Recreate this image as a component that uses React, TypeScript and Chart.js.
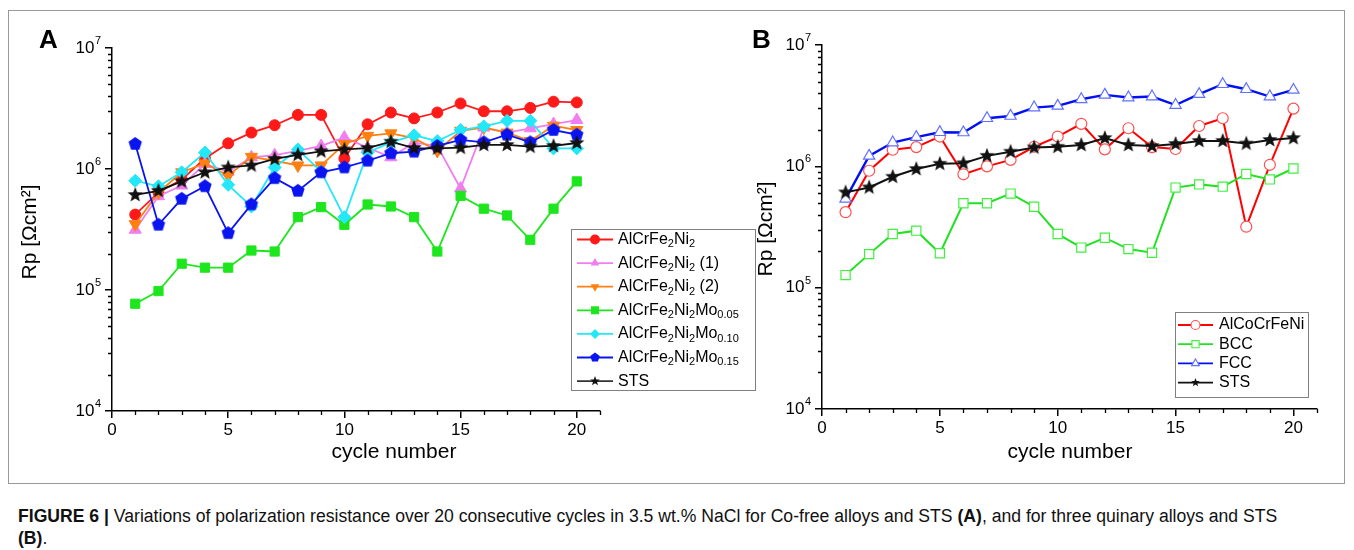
import React, { useEffect, useRef } from "react";
import { Chart, registerables } from "chart.js";
Chart.register(...registerables);

const FONT = "'Liberation Sans', Arial, Helvetica, sans-serif";

// ---------------- data ----------------
const cycles = [1, 2, 3, 4, 5, 6, 7, 8, 9, 10, 11, 12, 13, 14, 15, 16, 17, 18, 19, 20];
const xTickValues = [0, 5, 10, 15, 20];
const yTickValues = [1e4, 1e5, 1e6, 1e7];
const yTickBase = "10";
const yTickExponents = ["4", "5", "6", "7"];

// Panel A
const rpAlCrFe2Ni2 = [4.2e5, 6.4e5, 8.2e5, 1.22e6, 1.63e6, 2.0e6, 2.3e6, 2.8e6, 2.8e6, 1.22e6, 2.34e6, 2.93e6, 2.62e6, 2.93e6, 3.48e6, 3.0e6, 3.0e6, 3.2e6, 3.6e6, 3.55e6];
const rpAlCrFe2Ni2_1 = [3.15e5, 5.96e5, 7.3e5, 1.1e6, 9.5e5, 1.25e6, 1.3e6, 1.41e6, 1.55e6, 1.82e6, 1.5e6, 1.25e6, 1.65e6, 1.55e6, 6.9e5, 2.2e6, 2.0e6, 2.17e6, 2.35e6, 2.54e6];
const rpAlCrFe2Ni2_2 = [3.5e5, 6.4e5, 9.4e5, 1.11e6, 8.8e5, 1.26e6, 1.17e6, 1.07e6, 1.07e6, 1.61e6, 1.88e6, 1.97e6, 1.8e6, 1.41e6, 2.07e6, 2.2e6, 2.0e6, 1.7e6, 2.28e6, 2.1e6];
const rpMo005 = [7.7e4, 9.8e4, 1.65e5, 1.53e5, 1.53e5, 2.12e5, 2.08e5, 4.0e5, 4.84e5, 3.46e5, 5.09e5, 4.9e5, 4.0e5, 2.08e5, 6.0e5, 4.7e5, 4.13e5, 2.6e5, 4.7e5, 7.9e5];
const rpMo010 = [8.0e5, 7.2e5, 9.4e5, 1.37e6, 7.4e5, 4.9e5, 1.03e6, 1.45e6, 9.5e5, 4.0e5, 1.37e6, 1.66e6, 1.9e6, 1.7e6, 2.1e6, 2.25e6, 2.5e6, 2.5e6, 1.48e6, 1.48e6];
const rpMo015 = [1.61e6, 3.46e5, 5.67e5, 7.2e5, 2.95e5, 5.1e5, 8.4e5, 6.6e5, 9.4e5, 1.03e6, 1.17e6, 1.35e6, 1.39e6, 1.55e6, 1.74e6, 1.66e6, 1.92e6, 1.66e6, 2.1e6, 1.92e6];
const rpStsA = [6.1e5, 6.6e5, 7.9e5, 9.4e5, 1.03e6, 1.07e6, 1.21e6, 1.31e6, 1.4e6, 1.45e6, 1.49e6, 1.68e6, 1.49e6, 1.48e6, 1.5e6, 1.58e6, 1.58e6, 1.53e6, 1.55e6, 1.64e6];
const labelsA = [
  "AlCrFe_{2}Ni_{2}",
  "AlCrFe_{2}Ni_{2} (1)",
  "AlCrFe_{2}Ni_{2} (2)",
  "AlCrFe_{2}Ni_{2}Mo_{0.05}",
  "AlCrFe_{2}Ni_{2}Mo_{0.10}",
  "AlCrFe_{2}Ni_{2}Mo_{0.15}",
  "STS",
];

// Panel B
const rpAlCoCrFeNi = [4.19e5, 9.2e5, 1.37e6, 1.44e6, 1.76e6, 8.6e5, 1.0e6, 1.13e6, 1.45e6, 1.76e6, 2.24e6, 1.38e6, 2.06e6, 1.44e6, 1.39e6, 2.15e6, 2.49e6, 3.18e5, 1.03e6, 2.99e6];
const rpBCC = [1.27e5, 1.89e5, 2.77e5, 2.95e5, 1.92e5, 4.96e5, 4.96e5, 5.96e5, 4.65e5, 2.77e5, 2.14e5, 2.58e5, 2.08e5, 1.94e5, 6.68e5, 7.1e5, 6.8e5, 8.65e5, 7.8e5, 9.6e5];
const rpFCC = [5.4e5, 1.22e6, 1.57e6, 1.74e6, 1.91e6, 1.9e6, 2.49e6, 2.6e6, 3.05e6, 3.15e6, 3.57e6, 3.88e6, 3.69e6, 3.76e6, 3.2e6, 3.93e6, 4.75e6, 4.32e6, 3.76e6, 4.26e6];
const rpStsB = [6.1e5, 6.7e5, 8.2e5, 9.5e5, 1.05e6, 1.06e6, 1.22e6, 1.32e6, 1.43e6, 1.45e6, 1.5e6, 1.71e6, 1.5e6, 1.47e6, 1.53e6, 1.62e6, 1.62e6, 1.54e6, 1.65e6, 1.71e6];
const labelsB = ["AlCoCrFeNi", "BCC", "FCC", "STS"];

const xTitle = "cycle number";
const yTitle = "Rp [Ωcm²]";
const captionBold = "FIGURE 6 | ";
const captionText = "Variations of polarization resistance over 20 consecutive cycles in 3.5 wt.% NaCl for Co-free alloys and STS ";

// ---------------- colours ----------------
const C_RED = "#ff1a1a";
const C_PINK = "#f07ef0";
const C_ORANGE = "#ff8010";
const C_GREEN = "#1ee61e";
const C_CYAN = "#22e8fa";
const C_BLUE = "#0a14f0";
const C_BLACK = "#111111";

// ---------------- helpers ----------------
type Seg = { t: string; sub: boolean };
function parseRich(s: string): Seg[] {
  const out: Seg[] = [];
  const re = /_\{([^}]*)\}/g;
  let last = 0;
  let m: RegExpExecArray | null;
  while ((m = re.exec(s))) {
    if (m.index > last) out.push({ t: s.slice(last, m.index), sub: false });
    out.push({ t: m[1], sub: true });
    last = re.lastIndex;
  }
  if (last < s.length) out.push({ t: s.slice(last), sub: false });
  return out;
}
function plain(s: string) {
  return s.replace(/_\{([^}]*)\}/g, "$1");
}
function drawRich(ctx: CanvasRenderingContext2D, s: string, x: number, y: number, size: number) {
  let cx = x;
  for (const seg of parseRich(s)) {
    const fs = seg.sub ? Math.round(size * 0.68) : size;
    ctx.font = `${fs}px ${FONT}`;
    ctx.fillText(seg.t, cx, seg.sub ? y + size * 0.3 : y);
    cx += ctx.measureText(seg.t).width;
  }
}

function polyImage(n: number, outer: number, inner: number, color: string) {
  const s = Math.ceil(outer * 2 + 2);
  const c = document.createElement("canvas");
  c.width = s;
  c.height = s;
  const g = c.getContext("2d")!;
  g.beginPath();
  const cnt = inner > 0 ? n * 2 : n;
  for (let i = 0; i < cnt; i++) {
    const r = inner > 0 && i % 2 ? inner : outer;
    const a = -Math.PI / 2 + (i * 2 * Math.PI) / cnt;
    const px = s / 2 + r * Math.cos(a);
    const py = s / 2 + r * Math.sin(a);
    if (i) g.lineTo(px, py);
    else g.moveTo(px, py);
  }
  g.closePath();
  g.fillStyle = color;
  g.fill();
  return c;
}

type MarkerKind = "circle" | "triangle" | "triangleDown" | "rect" | "rectRot" | "star" | "pentagon";
function drawMarker(
  ctx: CanvasRenderingContext2D,
  kind: MarkerKind,
  x: number,
  y: number,
  r: number,
  fill: string,
  stroke: string,
  lw: number
) {
  ctx.save();
  ctx.beginPath();
  if (kind === "circle") {
    ctx.arc(x, y, r, 0, Math.PI * 2);
  } else if (kind === "rect") {
    const h = r * 0.8;
    ctx.rect(x - h, y - h, 2 * h, 2 * h);
  } else if (kind === "rectRot") {
    ctx.moveTo(x, y - r);
    ctx.lineTo(x + r, y);
    ctx.lineTo(x, y + r);
    ctx.lineTo(x - r, y);
    ctx.closePath();
  } else if (kind === "triangle" || kind === "triangleDown") {
    const sgn = kind === "triangle" ? 1 : -1;
    for (let i = 0; i < 3; i++) {
      const a = -Math.PI / 2 + (i * 2 * Math.PI) / 3;
      const px = x + r * Math.cos(a);
      const py = y + sgn * r * Math.sin(a);
      if (i) ctx.lineTo(px, py);
      else ctx.moveTo(px, py);
    }
    ctx.closePath();
  } else {
    const cnt = kind === "star" ? 10 : 5;
    for (let i = 0; i < cnt; i++) {
      const rr = kind === "star" && i % 2 ? r * 0.42 : r;
      const a = -Math.PI / 2 + (i * 2 * Math.PI) / cnt;
      const px = x + rr * Math.cos(a);
      const py = y + rr * Math.sin(a);
      if (i) ctx.lineTo(px, py);
      else ctx.moveTo(px, py);
    }
    ctx.closePath();
  }
  ctx.fillStyle = fill;
  ctx.fill();
  if (lw > 0) {
    ctx.strokeStyle = stroke;
    ctx.lineWidth = lw;
    ctx.stroke();
  }
  ctx.restore();
}

type LegendItem = { label: string; color: string; lw: number; marker: MarkerKind; fill: string; stroke: string; mlw: number };
type LegendCfg = {
  x: number; y: number; w: number; h: number;
  row0: number; rowH: number; lx0: number; lx1: number; tx: number; fs: number; mr: number;
  items: LegendItem[];
};

function legendPlugin(cfg: LegendCfg) {
  return {
    id: "customLegend",
    afterDraw(chart: any) {
      const ctx: CanvasRenderingContext2D = chart.ctx;
      ctx.save();
      ctx.fillStyle = "#fff";
      ctx.fillRect(cfg.x, cfg.y, cfg.w, cfg.h);
      ctx.strokeStyle = "#808080";
      ctx.lineWidth = 1;
      ctx.strokeRect(cfg.x + 0.5, cfg.y + 0.5, cfg.w, cfg.h);
      cfg.items.forEach((it, i) => {
        const yy = cfg.row0 + i * cfg.rowH;
        ctx.strokeStyle = it.color;
        ctx.lineWidth = it.lw;
        ctx.beginPath();
        ctx.moveTo(cfg.lx0, yy);
        ctx.lineTo(cfg.lx1, yy);
        ctx.stroke();
        drawMarker(ctx, it.marker, (cfg.lx0 + cfg.lx1) / 2, yy, cfg.mr, it.fill, it.stroke, it.mlw);
        ctx.fillStyle = "#000";
        ctx.textBaseline = "middle";
        ctx.textAlign = "left";
        drawRich(ctx, it.label, cfg.tx, yy, cfg.fs);
      });
      ctx.restore();
    },
  };
}

// axis titles drawn at fixed spots (canvas coordinates)
function titlesPlugin(xt: { x: number; y: number }, yt: { x: number; y: number }) {
  return {
    id: "axisTitles",
    afterDraw(chart: any) {
      const ctx: CanvasRenderingContext2D = chart.ctx;
      ctx.save();
      ctx.fillStyle = "#000";
      ctx.textAlign = "center";
      ctx.textBaseline = "middle";
      ctx.font = `21px ${FONT}`;
      ctx.fillText(xTitle, xt.x, xt.y);
      ctx.translate(yt.x, yt.y);
      ctx.rotate(-Math.PI / 2);
      ctx.font = `21px ${FONT}`;
      ctx.fillText(yTitle, 0, 0);
      ctx.restore();
    },
  };
}

// y tick labels as 10 with a raised exponent, placed from the y scale
const powerLabelsPlugin = {
  id: "powerLabels",
  afterDraw(chart: any) {
    const ctx: CanvasRenderingContext2D = chart.ctx;
    const ys = chart.scales.y;
    const a = chart.chartArea;
    ctx.save();
    ctx.fillStyle = "#000";
    ctx.textBaseline = "middle";
    yTickValues.forEach((v, i) => {
      const py = ys.getPixelForValue(v);
      ctx.font = `11px ${FONT}`;
      const ew = ctx.measureText(yTickExponents[i]).width;
      const right = a.left - 11;
      ctx.textAlign = "left";
      ctx.fillText(yTickExponents[i], right - ew, py - 7);
      ctx.font = `17px ${FONT}`;
      ctx.textAlign = "right";
      ctx.fillText(yTickBase, right - ew - 0.5, py);
    });
    ctx.restore();
  },
};

const minorTicksPlugin = {
  id: "minorTicks",
  afterDraw(chart: any) {
    const { ctx, chartArea: a } = chart;
    const xs = chart.scales.x;
    const ys = chart.scales.y;
    ctx.save();
    ctx.strokeStyle = "#000";
    ctx.lineWidth = 1.3;
    ctx.beginPath();
    for (let i = 1; i <= 21; i++) {
      if (i % 5 === 0) continue;
      const px = Math.round(xs.getPixelForValue(i)) + 0.5;
      ctx.moveTo(px, a.bottom);
      ctx.lineTo(px, a.bottom + 4);
    }
    for (const d of [1e4, 1e5, 1e6]) {
      for (let k = 2; k <= 9; k++) {
        const py = Math.round(ys.getPixelForValue(k * d)) + 0.5;
        ctx.moveTo(a.left, py);
        ctx.lineTo(a.left - 4, py);
      }
    }
    ctx.stroke();
    ctx.restore();
  },
};

function buildOptions(pad: any, yWidth: number, xHeight: number) {
  return {
    responsive: false,
    animation: false,
    devicePixelRatio: 1,
    layout: { padding: pad },
    plugins: { legend: { display: false }, tooltip: { enabled: false } },
    scales: {
      x: {
        type: "linear",
        min: 0,
        max: 21,
        afterBuildTicks: (s: any) => {
          s.ticks = xTickValues.map((v) => ({ value: v }));
        },
        afterFit: (s: any) => {
          s.height = xHeight;
        },
        ticks: { font: { family: FONT, size: 17 }, color: "#000", padding: 2, maxRotation: 0, autoSkip: false },
        grid: { drawOnChartArea: false, drawTicks: true, tickLength: 7, color: "#000", lineWidth: 1.5 },
        border: { display: true, color: "#000", width: 1.5 },
        title: { display: false },
      },
      y: {
        type: "logarithmic",
        min: 1e4,
        max: 1e7,
        afterBuildTicks: (s: any) => {
          s.ticks = yTickValues.map((v) => ({ value: v }));
        },
        afterFit: (s: any) => {
          s.width = yWidth;
        },
        ticks: { display: false, autoSkip: false },
        grid: { drawOnChartArea: false, drawTicks: true, tickLength: 7, color: "#000", lineWidth: 1.5 },
        border: { display: true, color: "#000", width: 1.5 },
        title: { display: false },
      },
    },
  };
}

function series(label: string, values: number[], color: string, order: number, extra: any) {
  return {
    label: plain(label),
    data: cycles.map((c, i) => ({ x: c, y: values[i] })),
    borderColor: color,
    backgroundColor: color,
    borderWidth: 1.8,
    pointBorderColor: color,
    pointBackgroundColor: color,
    pointBorderWidth: 1,
    pointRadius: 5.5,
    tension: 0,
    order,
    ...extra,
  };
}

// Layout (page coordinates)
const TOP = 30;
const H = 437;
const A_LEFT = 15;
const A_W = 745;
const B_LEFT = 751;
const B_W = 594;

export default function App() {
  const refA = useRef<HTMLCanvasElement>(null);
  const refB = useRef<HTMLCanvasElement>(null);

  useEffect(() => {
    const star = polyImage(5, 8, 3.4, C_BLACK);
    const pent = polyImage(5, 7, 0, C_BLUE);

    const dsA = [
      series(labelsA[0], rpAlCrFe2Ni2, C_RED, 6, { pointStyle: "circle", pointRadius: 5.5 }),
      series(labelsA[1], rpAlCrFe2Ni2_1, C_PINK, 5, { pointStyle: "triangle", pointRadius: 7 }),
      series(labelsA[2], rpAlCrFe2Ni2_2, C_ORANGE, 4, { pointStyle: "triangle", pointRotation: 180, pointRadius: 7 }),
      series(labelsA[3], rpMo005, C_GREEN, 3, { pointStyle: "rect", pointRadius: 6.5 }),
      series(labelsA[4], rpMo010, C_CYAN, 2, { pointStyle: "rectRot", pointRadius: 6.5 }),
      series(labelsA[5], rpMo015, C_BLUE, 1, { pointStyle: pent }),
      series(labelsA[6], rpStsA, C_BLACK, 0, { pointStyle: star }),
    ];

    const legA: LegendCfg = {
      x: 571 - A_LEFT, y: 229 - TOP, w: 184, h: 161,
      row0: 239.5 - TOP, rowH: 23.6, lx0: 577 - A_LEFT, lx1: 613 - A_LEFT, tx: 618 - A_LEFT, fs: 16, mr: 5,
      items: [
        { label: labelsA[0], color: C_RED, lw: 1.8, marker: "circle", fill: C_RED, stroke: C_RED, mlw: 0 },
        { label: labelsA[1], color: C_PINK, lw: 1.8, marker: "triangle", fill: C_PINK, stroke: C_PINK, mlw: 0 },
        { label: labelsA[2], color: C_ORANGE, lw: 1.8, marker: "triangleDown", fill: C_ORANGE, stroke: C_ORANGE, mlw: 0 },
        { label: labelsA[3], color: C_GREEN, lw: 1.8, marker: "rect", fill: C_GREEN, stroke: C_GREEN, mlw: 0 },
        { label: labelsA[4], color: C_CYAN, lw: 1.8, marker: "rectRot", fill: C_CYAN, stroke: C_CYAN, mlw: 0 },
        { label: labelsA[5], color: C_BLUE, lw: 1.8, marker: "pentagon", fill: C_BLUE, stroke: C_BLUE, mlw: 0 },
        { label: labelsA[6], color: "#333", lw: 1.8, marker: "star", fill: C_BLACK, stroke: C_BLACK, mlw: 0 },
      ],
    };

    const chartA = new Chart(refA.current!, {
      type: "line",
      data: { datasets: dsA as any },
      options: buildOptions({ left: 0, top: 48 - TOP, right: A_W - (600 - A_LEFT), bottom: 0 }, 112 - A_LEFT, H - (411 - TOP)) as any,
      plugins: [minorTicksPlugin, powerLabelsPlugin, legendPlugin(legA), titlesPlugin({ x: 394 - A_LEFT, y: 452 - TOP }, { x: 30 - A_LEFT, y: 232 - TOP })],
    });

    const dsB = [
      series(labelsB[0], rpAlCoCrFeNi, "#ff0000", 3, { pointStyle: "circle", pointRadius: 5.5, pointBackgroundColor: "#fff", pointBorderColor: "#ff5050", pointBorderWidth: 1.2, borderWidth: 2 }),
      series(labelsB[1], rpBCC, "#22e022", 2, { pointStyle: "rect", pointRadius: 6.5, pointBackgroundColor: "#fff", pointBorderColor: "#40f040", pointBorderWidth: 1.2, borderWidth: 2 }),
      series(labelsB[2], rpFCC, "#0010f0", 1, { pointStyle: "triangle", pointRadius: 6.5, pointBackgroundColor: "#fff", pointBorderColor: "#6070ff", pointBorderWidth: 1.2, borderWidth: 2.4 }),
      series(labelsB[3], rpStsB, C_BLACK, 0, { pointStyle: star, borderWidth: 2 }),
    ];

    const legB: LegendCfg = {
      x: 1175 - B_LEFT, y: 312 - TOP, w: 133, h: 85,
      row0: 325 - TOP, rowH: 19.2, lx0: 1178 - B_LEFT, lx1: 1213 - B_LEFT, tx: 1219 - B_LEFT, fs: 16, mr: 4.5,
      items: [
        { label: labelsB[0], color: "#ff0000", lw: 1.8, marker: "circle", fill: "#fff", stroke: "#ff5050", mlw: 1.1 },
        { label: labelsB[1], color: "#22e022", lw: 1.8, marker: "rect", fill: "#fff", stroke: "#40f040", mlw: 1.1 },
        { label: labelsB[2], color: "#0010f0", lw: 1.8, marker: "triangle", fill: "#fff", stroke: "#6070ff", mlw: 1.1 },
        { label: labelsB[3], color: C_BLACK, lw: 1.8, marker: "star", fill: C_BLACK, stroke: C_BLACK, mlw: 0 },
      ],
    };

    const chartB = new Chart(refB.current!, {
      type: "line",
      data: { datasets: dsB as any },
      options: buildOptions({ left: 0, top: 45 - TOP, right: B_W - (1317 - B_LEFT), bottom: 0 }, 822 - B_LEFT, H - (409 - TOP)) as any,
      plugins: [minorTicksPlugin, powerLabelsPlugin, legendPlugin(legB), titlesPlugin({ x: 1070 - B_LEFT, y: 452 - TOP }, { x: 766 - B_LEFT, y: 229 - TOP })],
    });

    return () => {
      chartA.destroy();
      chartB.destroy();
    };
  }, []);

  return (
    <div style={{ position: "absolute", left: 0, top: 0, width: 1354, height: 550, background: "#fff", fontFamily: FONT }}>
      <div style={{ position: "absolute", left: 8, top: 10, width: 1337, height: 474, border: "1px solid #999", boxSizing: "border-box" }} />
      <canvas ref={refA} width={A_W} height={H} style={{ position: "absolute", left: A_LEFT, top: TOP, width: A_W, height: H }} />
      <canvas ref={refB} width={B_W} height={H} style={{ position: "absolute", left: B_LEFT, top: TOP, width: B_W, height: H }} />
      <div style={{ position: "absolute", left: 39, top: 24, fontWeight: "bold", fontSize: 26, lineHeight: "30px" }}>A</div>
      <div style={{ position: "absolute", left: 752, top: 24, fontWeight: "bold", fontSize: 26, lineHeight: "30px" }}>B</div>
      <div
        style={{
          position: "absolute",
          left: 18,
          top: 505,
          fontFamily: FONT,
          fontSize: 17.6,
          lineHeight: "22px",
          whiteSpace: "nowrap",
          color: "#111",
        }}
      >
        <b>{captionBold}</b>
        {captionText}
        <b>(A)</b>, and for three quinary alloys and STS
        <br />
        <b>(B)</b>.
      </div>
    </div>
  );
}
